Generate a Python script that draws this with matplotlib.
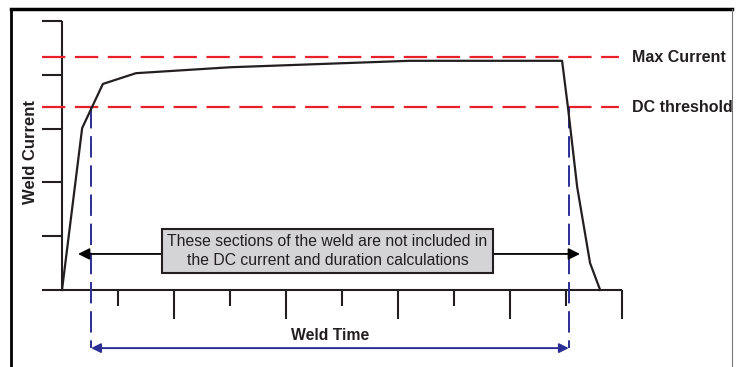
import matplotlib.pyplot as plt
from matplotlib.patches import Rectangle

plt.rcParams['font.family'] = ['Liberation Sans', 'DejaVu Sans']

# weld current trace, in tick units (time, current)
weld_time = [0, 0.36, 0.73, 1.32, 3.0, 6.2, 8.93, 9.04, 9.2, 9.43, 9.61]
weld_current = [0, 3.01, 3.83, 4.03, 4.14, 4.26, 4.26, 3.35, 1.91, 0.5, 0.0]

max_current = 4.33
dc_threshold = 3.40
dc_start = 0.52   # where the trace crosses the threshold going up
dc_end = 9.05     # ... and going down

x_ticks = [1, 2, 3, 4, 5, 6, 7, 8, 9, 10]
y_ticks = [0, 1, 2, 3, 4, 5]

levels = [max_current, dc_threshold]
level_labels = ["Max Current", "DC threshold"]

box_text = "These sections of the weld are not included in\nthe DC current and duration calculations"

INK = "#231f20"
RED = "#e8202a"
BLUE = "#2b2f94"

fig = plt.figure(figsize=(7.37, 3.67), dpi=100)
ax = fig.add_axes([0, 0, 1, 1])
ax.set_xlim(-62 / 56, (737 - 62) / 56)
ax.set_ylim((290 - 367) / 53.8, 290 / 53.8)
ax.axis("off")

# outer frame
ax.plot([0.015, 0.015], [-0.1, 0.976], color="black", lw=2, transform=ax.transAxes, clip_on=False)
ax.plot([0.015, 0.9935], [0.976, 0.976], color="black", lw=2.5, transform=ax.transAxes, clip_on=False)
ax.plot([0.9935, 0.9935], [-0.1, 0.976], color="#777777", lw=0.8, transform=ax.transAxes, clip_on=False)

# axes
tick_left = -0.357
ax.plot([0, 0], [0, y_ticks[-1]], color=INK, lw=1.5, solid_capstyle="butt")
ax.plot([tick_left, x_ticks[-1]], [0, 0], color=INK, lw=1.5, solid_capstyle="butt")
for yt in y_ticks[1:]:
    ax.plot([tick_left, 0], [yt, yt], color=INK, lw=1.5, solid_capstyle="butt")
for xt in x_ticks:
    bottom = -0.54 if xt % 2 == 0 else -0.30
    ax.plot([xt, xt], [0, bottom], color=INK, lw=1.5, solid_capstyle="butt")

# threshold levels
for lvl, lab in zip(levels, level_labels):
    ax.plot([tick_left, 9.95], [lvl, lvl], color=RED, lw=1.6, dashes=(10.5, 4.3))
    ax.text(10.18, lvl, lab, fontsize=11.5, fontweight="bold", va="center", ha="left", color=INK)

# weld trace
ax.plot(weld_time, weld_current, color=INK, lw=1.6, zorder=4)

# DC window
bottom_arrow = -1.08
for xd in [dc_start, dc_end]:
    ax.plot([xd, xd], [dc_threshold, bottom_arrow], color=BLUE, lw=1.4, dashes=(11, 4), zorder=3)
ax.annotate("", xy=(dc_end, bottom_arrow), xytext=(dc_start, bottom_arrow),
            arrowprops=dict(arrowstyle="<|-|>", color=BLUE, lw=1.4, mutation_scale=14,
                            shrinkA=0, shrinkB=0))
ax.text((dc_start + dc_end) / 2, -0.84, "Weld Time", fontsize=11.3, fontweight="bold",
        ha="center", va="center", color=INK)

# excluded sections box with arrows
box_x0, box_x1 = 1.786, 7.696
box_y0, box_y1 = 0.316, 1.134
arrow_y = 0.67
ax.add_patch(Rectangle((box_x0, box_y0), box_x1 - box_x0, box_y1 - box_y0,
                       facecolor="#d4d4d6", edgecolor=INK, lw=1.5, zorder=5))
ax.text((box_x0 + box_x1) / 2, (box_y0 + box_y1) / 2, box_text, fontsize=11.3,
        ha="center", va="center", color=INK, linespacing=1.27, zorder=6)
ax.annotate("", xy=(0.286, arrow_y), xytext=(box_x0, arrow_y),
            arrowprops=dict(arrowstyle="-|>", color="black", lw=1.3, mutation_scale=17,
                            shrinkA=0, shrinkB=0), zorder=4)
ax.annotate("", xy=(9.25, arrow_y), xytext=(box_x1, arrow_y),
            arrowprops=dict(arrowstyle="-|>", color="black", lw=1.3, mutation_scale=17,
                            shrinkA=0, shrinkB=0), zorder=4)

ax.text(-0.554, 2.565, "Weld Current", fontsize=12, fontweight="bold", rotation=90,
        ha="center", va="center", color=INK)

fig.savefig("out.png", dpi=100)
